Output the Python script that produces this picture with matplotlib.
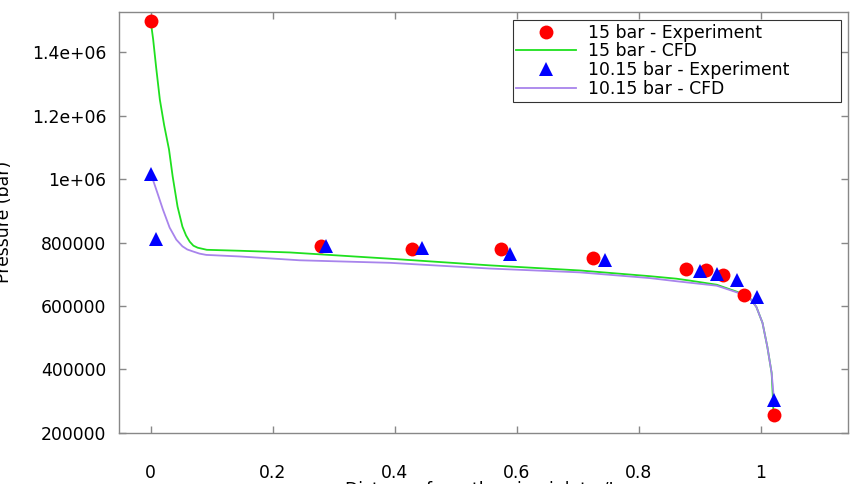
import matplotlib
matplotlib.use("Agg")
import matplotlib.pyplot as plt
from matplotlib.lines import Line2D

# --- data ---
x_exp15 = [0.0, 0.280, 0.428, 0.575, 0.725, 0.878, 0.911, 0.939, 0.973, 1.022]
p_exp15 = [1497500, 790000, 780000, 780000, 752000, 717000, 712000, 697000, 635000, 257000]

x_exp10 = [0.0, 0.008, 0.288, 0.444, 0.589, 0.744, 0.900, 0.929, 0.962, 0.994, 1.022]
p_exp10 = [1015000, 812000, 790500, 783000, 764700, 744800, 710000, 702000, 681000, 629600, 304000]

x_cfd15 = [0.0, 0.004, 0.009, 0.015, 0.022, 0.030, 0.036, 0.044, 0.052, 0.058, 0.064,
           0.070, 0.077, 0.092, 0.146, 0.228, 0.392, 0.556, 0.703, 0.818, 0.862,
           0.884, 0.928, 0.961, 0.982, 0.993, 1.003, 1.011, 1.018, 1.020, 1.021]
p_cfd15 = [1497000, 1440000, 1350000, 1250000, 1170000, 1093000, 1008000, 913000,
           850000, 822000, 802500, 790000, 783600, 777000, 774000, 768700, 749000,
           728000, 712000, 694000, 686000, 680000, 667000, 645000, 626000, 597000,
           547000, 471000, 389000, 313000, 263000]

x_cfd10 = [0.0, 0.005, 0.011, 0.020, 0.031, 0.042, 0.052, 0.060, 0.069, 0.080, 0.091,
           0.146, 0.244, 0.392, 0.556, 0.703, 0.818, 0.862, 0.928, 0.961, 0.982,
           0.993, 1.003, 1.011, 1.018, 1.022]
p_cfd10 = [1014000, 990000, 956000, 904000, 847000, 809000, 788000, 778000, 772000,
           765000, 761000, 756000, 744000, 736000, 718000, 706000, 688000, 678000,
           664000, 643000, 625000, 597000, 547000, 471000, 389000, 300000]

xticks = [0, 0.2, 0.4, 0.6, 0.8, 1]
xtick_labels = ["0", "0.2", "0.4", "0.6", "0.8", "1"]
yticks = [200000, 400000, 600000, 800000, 1000000, 1200000, 1400000]
ytick_labels = ["200000", "400000", "600000", "800000", "1e+06", "1.2e+06", "1.4e+06"]

green = "#1fe01f"
purple = "#a884ec"

fig = plt.figure(figsize=(8.53, 4.84), dpi=100)
ax = fig.add_axes([0.1395, 0.1054, 0.8545, 0.8704])

ax.plot(x_cfd15, p_cfd15, color=green, lw=1.3, zorder=2)
ax.plot(x_cfd10, p_cfd10, color=purple, lw=1.3, zorder=2)
ax.plot(x_exp15, p_exp15, 'o', color='#ff0000', ms=10, mew=0, zorder=3)
ax.plot(x_exp10, p_exp10, '^', color='#0000ff', ms=10, mew=0, zorder=4)

ax.set_xlim(-0.052, 1.143)
ax.set_ylim(200000, 1527000)
ax.set_xticks(xticks)
ax.set_xticklabels(xtick_labels)
ax.set_yticks(yticks)
ax.set_yticklabels(ytick_labels)

for s in ax.spines.values():
    s.set_color('#888888')
    s.set_linewidth(1.0)
ax.tick_params(axis='both', direction='in', length=5, width=1.0, color='#888888',
               top=True, right=True, labelsize=12.4)
ax.tick_params(axis='y', pad=9)
ax.tick_params(axis='x', pad=22)

handles = [
    Line2D([], [], ls='none', marker='o', color='#ff0000', ms=10, mew=0),
    Line2D([], [], color=green, lw=1.3),
    Line2D([], [], ls='none', marker='^', color='#0000ff', ms=10, mew=0),
    Line2D([], [], color=purple, lw=1.3),
]
labels = ["15 bar - Experiment", "15 bar - CFD", "10.15 bar - Experiment", "10.15 bar - CFD"]
leg = ax.legend(handles, labels, loc='upper left', bbox_to_anchor=(0.540, 0.788, 0.450, 0.192),
                mode='expand', fontsize=12.4, frameon=True, fancybox=False,
                handlelength=3.5, handletextpad=0.7, labelspacing=0.05,
                borderpad=0.2, borderaxespad=0)
leg.get_frame().set_edgecolor('black')
leg.get_frame().set_linewidth(0.8)

fig.text(0.005, 0.541, "Pressure (bar)", rotation=90, ha='center', va='center', fontsize=12.4)
fig.text(0.565, -0.012, "Distance from the pipe inlet x/L", ha='center', va='center', fontsize=12.4)

fig.savefig("out.png", dpi=100)
